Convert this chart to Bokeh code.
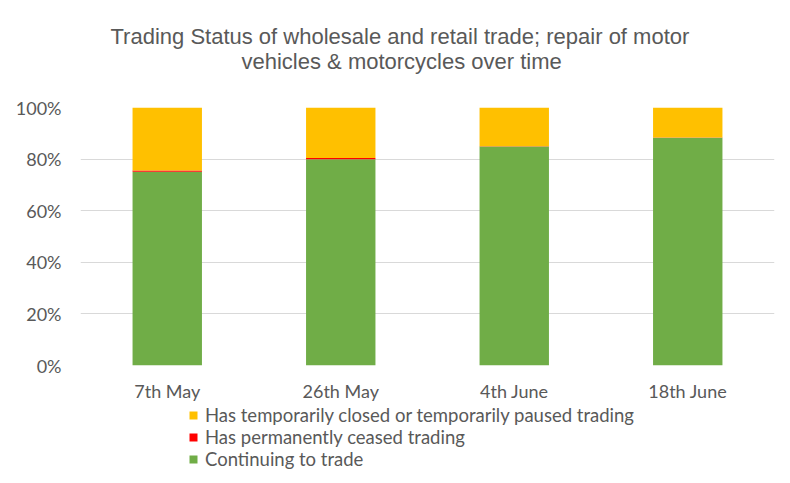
from bokeh.plotting import figure
from bokeh.layouts import column
from bokeh.models import Legend, LegendItem, NumeralTickFormatter, ColumnDataSource, Title
from bokeh.embed import file_html
from bokeh.resources import INLINE

categories = ["7th May", "26th May", "4th June", "18th June"]
continuing = [75.1, 79.9, 84.9, 88.3]
ceased = [0.5, 0.5, 0.1, 0.1]
paused = [24.4, 19.6, 15.0, 11.6]
series_names = ["Continuing to trade", "Has permanently ceased trading",
                "Has temporarily closed or temporarily paused trading"]
colors = ["#70AD47", "#FF0000", "#FFC000"]
title_lines = ["Trading Status of wholesale and retail trade; repair of motor",
               "vehicles & motorcycles over time"]

src = ColumnDataSource(dict(
    cat=categories,
    cont=[v / 100 for v in continuing],
    ceas=[v / 100 for v in ceased],
    paus=[v / 100 for v in paused],
))

p = figure(x_range=categories, y_range=(0, 1), frame_width=694, frame_height=258,
           width=784, height=401,
           output_backend="svg", toolbar_location=None,
           min_border_left=80, min_border_right=10, min_border_top=107, min_border_bottom=36)
p.outline_line_color = None

rs = p.vbar_stack(["cont", "ceas", "paus"], x="cat", width=0.4, source=src,
                  color=colors, line_color=None)

p.yaxis.ticker = [0, 0.2, 0.4, 0.6, 0.8, 1.0]
p.yaxis.formatter = NumeralTickFormatter(format="0%")
for ax in (p.xaxis[0], p.yaxis[0]):
    ax.axis_line_color = None
    ax.major_tick_line_color = None
    ax.minor_tick_line_color = None
    ax.major_tick_out = 0
    ax.major_tick_in = 0
    ax.major_label_text_font = "Lato"
    ax.major_label_text_font_size = "18px"
    ax.major_label_text_color = "#595959"
p.yaxis.major_label_standoff = 19
p.xaxis.major_label_standoff = 14
p.xgrid.grid_line_color = None
p.ygrid.grid_line_color = "#D9D9D9"
p.ygrid.grid_line_width = 1

# title: spacer nearest the frame, then line 2, then line 1
p.add_layout(Title(text=" ", text_font_size="1px", standoff=32), "above")
p.add_layout(Title(text=title_lines[1], align="left", offset=161, standoff=-3,
                   text_font="Liberation Sans", text_font_size="22px",
                   text_font_style="normal", text_color="#595959"), "above")
p.add_layout(Title(text=title_lines[0], align="left", offset=30, standoff=0,
                   text_font="Liberation Sans", text_font_size="22px",
                   text_font_style="normal", text_color="#595959"), "above")

# legend panel below the chart (swatch renderers sit outside the visible range)
p2 = figure(width=784, height=82, x_range=(0, 1), y_range=(0, 1),
            x_axis_type=None, y_axis_type=None, output_backend="svg", toolbar_location=None,
            min_border=0)
p2.outline_line_color = None
p2.grid.visible = False
swatches = [p2.vbar(x=[-10], top=[-10], bottom=-11, width=0.1, color=c, line_color=None)
            for c in colors]
items = [LegendItem(label=series_names[i], renderers=[swatches[i]]) for i in (2, 1, 0)]
legend = Legend(items=items, location=(108, 16), orientation="vertical",
                label_text_font="Lato", label_text_font_size="18.5px", label_text_color="#595959",
                glyph_width=10, glyph_height=10, label_standoff=7, spacing=0,
                padding=0, margin=0, border_line_color=None, background_fill_alpha=0,
                label_height=21)
p2.add_layout(legend, "center")

layout = column(p, p2, spacing=0)
open("out.html", "w").write(file_html(layout, INLINE))
